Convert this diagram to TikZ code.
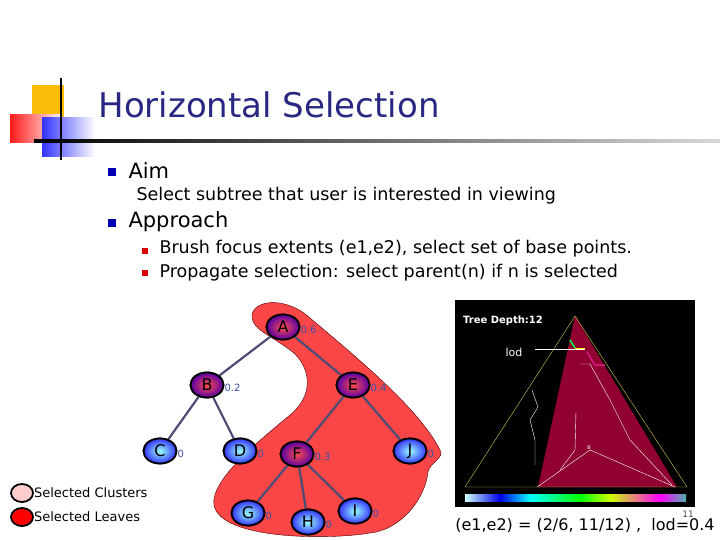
\documentclass[tikz,border=0pt]{standalone}
\usepackage{fontspec}
\setmainfont{DejaVu Sans}
\usetikzlibrary{positioning}
\usetikzlibrary{shapes.geometric}
\definecolor{titleblue}{RGB}{40,40,130}
\definecolor{blobred}{RGB}{250,70,70}
\definecolor{lvlblue}{RGB}{60,80,170}
\tikzstyle{tnode}=[draw=black,ellipse,line width=1.8pt,minimum width=33pt,minimum height=25pt,inner sep=0pt,font=\fontsize{16}{18}\selectfont]
\tikzstyle{clus}=[tnode,inner color=red!70,outer color=violet!70!blue]
\tikzstyle{leaf}=[tnode,inner color=cyan!40,outer color=blue!80]
\tikzstyle{lvl}=[font=\fontsize{10}{11}\selectfont,text=lvlblue,anchor=west,inner sep=1pt]
\tikzstyle{edge}=[line width=2.2pt,color=black!60!blue!40!gray]

\begin{document}
\begin{tikzpicture}[x=1pt,y=-1pt]
    \useasboundingbox (0,0) rectangle (720,540);
    % titel decoratie
    \fill[yellow!50!orange] (32,85) rectangle (64,118);
    \shade[left color=red!90,right color=red!5] (10,115) rectangle (60,143);
    \shade[left color=blue!80,right color=white] (42,118) rectangle (95,157);
    \draw[line width=2pt] (61,78) -- (61,160);
    \shade[left color=black,right color=gray!30] (34,139.5) rectangle (720,142.5);
    \node[anchor=west,font=\fontsize{34}{36}\selectfont,text=titleblue] (title) at (95,105) {Horizontal Selection};

    % tekst
    \fill[blue!70!black] (108,168) rectangle (116,176);
    \node[anchor=west,font=\fontsize{21}{23}\selectfont] (aim) at (125,171) {Aim};
    \node[anchor=west,font=\fontsize{17.5}{19}\selectfont] (aimtxt) at (133,196) {Select subtree that user is interested in viewing};
    \fill[blue!70!black] (108,219) rectangle (116,227);
    \node[anchor=west,font=\fontsize{21}{23}\selectfont] (appr) at (125,222) {Approach};
    \fill[red!85!black] (142,248) rectangle (148,254);
    \node[anchor=west,font=\fontsize{17.5}{19}\selectfont] (b1) at (156,249) {Brush focus extents (e1,e2), select set of base points.};
    \fill[red!85!black] (142,270) rectangle (148,276);
    \node[anchor=west,font=\fontsize{17.5}{19}\selectfont] (b2) at (156,273) {Propagate selection: select parent(n) if n is selected};

    % geselecteerd gebied
    \filldraw[fill=blobred,draw=black!70!red,thin] (252,318) .. controls (250,300) and (285,295) .. (310,318)
      .. controls (360,360) and (420,410) .. (440,450) .. controls (445,458) and (430,462) .. (428,472)
      .. controls (425,500) and (400,530) .. (370,533) .. controls (330,540) and (220,540) .. (214,505)
      .. controls (210,480) and (260,440) .. (290,415) .. controls (320,390) and (305,360) .. (290,350)
      .. controls (270,335) and (254,330) .. (252,318) -- cycle;

    % boom
    \node[clus] (A) at (283,327) {A};
    \node[clus] (B) at (207,385) {B};
    \node[clus] (E) at (353,385) {E};
    \node[leaf] (C) at (160,451) {C};
    \node[leaf] (D) at (240,451) {D};
    \node[clus] (F) at (297,454) {F};
    \node[leaf] (J) at (410,451) {J};
    \node[leaf] (G) at (248,513) {G};
    \node[leaf] (H) at (308,522) {H};
    \node[leaf] (I) at (355,511) {I};
    \foreach \p/\c in {A/B,A/E,B/C,B/D,E/F,E/J,F/G,F/H,F/I}
      \draw[edge] (\p) -- (\c);
    \foreach \n/\v in {A/0.6,B/0.2,E/0.4,C/0,D/0,F/0.3,J/0,G/0,H/0,I/0}
      \node[lvl] at ([xshift=-1pt,yshift=-3pt]\n.east) {\v};
    % knopen opnieuw bovenop de lijnen
    \foreach \n/\s/\x/\y in {A/clus/283/327,B/clus/207/385,E/clus/353/385,C/leaf/160/451,D/leaf/240/451,F/clus/297/454,J/leaf/410/451,G/leaf/248/513,H/leaf/308/522,I/leaf/355/511}
      \node[\s] at (\x,\y) {\n};

    % legenda
    \node[tnode,minimum width=22pt,minimum height=18pt,fill=red!20] (lc) at (22,493) {};
    \node[anchor=west,font=\fontsize{13}{14}\selectfont,inner sep=0pt] (lct) at (lc.east) {Selected Clusters};
    \node[tnode,minimum width=22pt,minimum height=18pt,fill=red] (ll) at (22,517) {};
    \node[anchor=west,font=\fontsize{13}{14}\selectfont,inner sep=0pt] (llt) at (ll.east) {Selected Leaves};

    % screenshot
    \fill[black] (455,300) rectangle (695,507);
    \fill[purple!75!black] (575,316) -- (538,487) -- (677,487) -- cycle;
    \draw[yellow!60!gray,thin] (575,316) -- (465,487) -- (687,487) -- cycle;
    \draw[white,thin] (537,487) -- (590,450) -- (675,487);
    \draw[white,thin] (580,364) -- (590,364) -- (610,400) -- (630,440) -- (672,485);
    \draw[white,thin] (576,412) -- (575,450) -- (560,470);
    \draw[white,thin] (532,390) -- (538,407) -- (530,420) -- (535,440) -- (535,465);
    \draw[line width=1.5pt,green!70!cyan] (570,340) -- (575,348);
    \draw[line width=1.5pt,yellow] (575,349) -- (585,349);
    \draw[line width=1.5pt,magenta!80!violet] (587,352) -- (595,365) -- (605,365);
    \draw[white] (535,349) -- (585,349);
    \node[white,font=\fontsize{10}{11}\selectfont\bfseries] (depth) at (503,321) {Tree Depth:12};
    \node[white,font=\fontsize{11}{12}\selectfont] (lod) at (514,352) {lod};
    \node[white,font=\tiny] (bb) at (589,448) {B};
    \shade[left color=cyan!20,right color=blue!90!black] (465,494) rectangle (500,501);
    \shade[left color=blue!90!black,right color=cyan] (500,494) rectangle (530,501);
    \shade[left color=cyan,right color=green] (530,494) rectangle (580,501);
    \shade[left color=green,right color=yellow!80!green] (580,494) rectangle (610,501);
    \shade[left color=yellow!80!green,right color=magenta] (610,494) rectangle (660,501);
    \shade[left color=magenta,right color=cyan!40!gray] (660,494) rectangle (686,501);

    \node[font=\fontsize{16}{18}\selectfont] (formula) at (585,525) {(e1,e2) = (2/6, 11/12) ,\ \ lod=0.4};
    \node[font=\small,text=black!70] (pnum) at (688,514) {11};
\end{tikzpicture}
\end{document}
